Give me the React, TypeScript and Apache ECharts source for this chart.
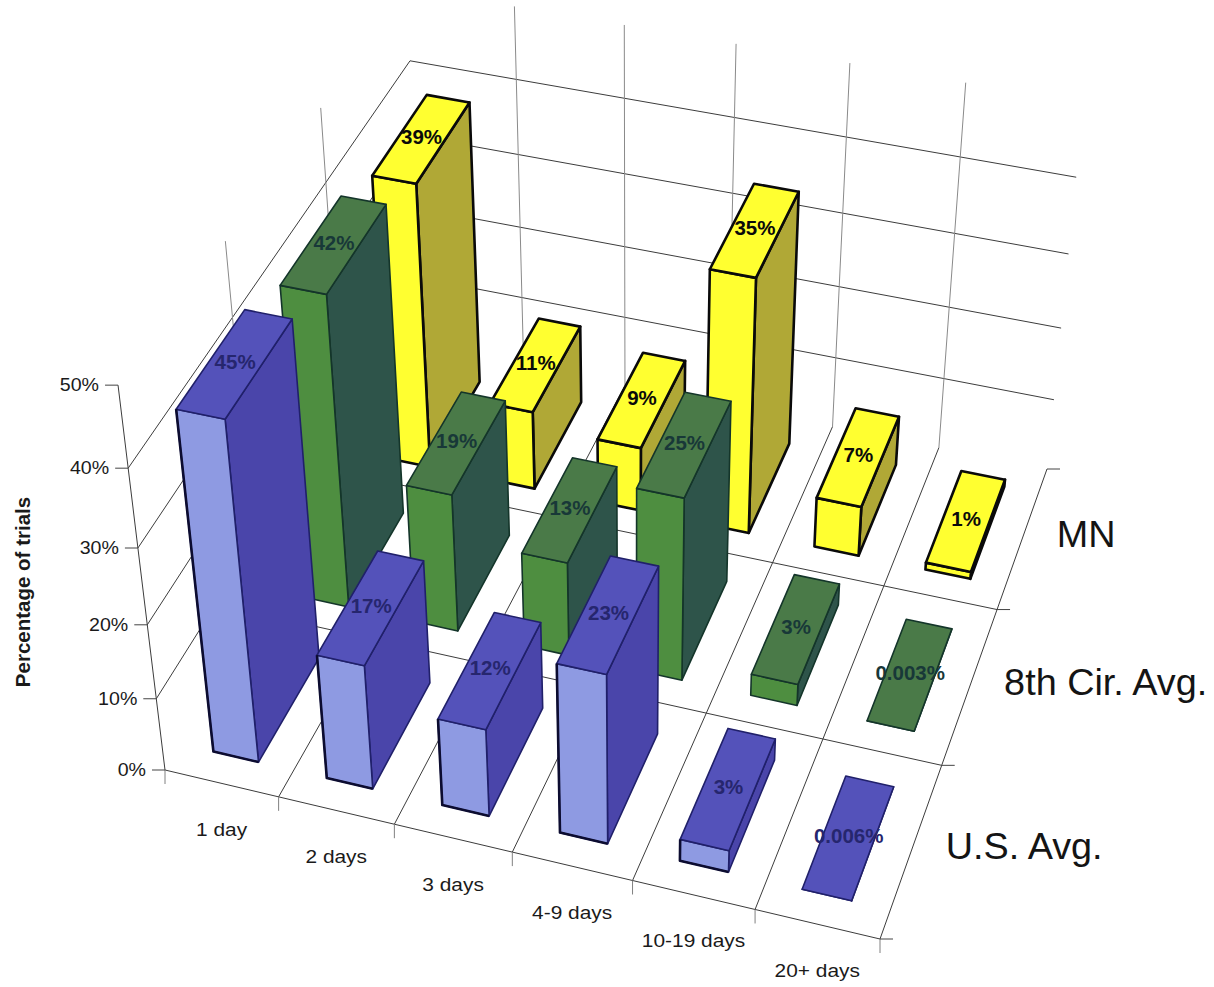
import { useEffect, useRef } from "react";
import * as echarts from "echarts";

// Chart content
const categories = ["1 day", "2 days", "3 days", "4-9 days", "10-19 days", "20+ days"];
const rowNames = ["U.S. Avg.", "8th Cir. Avg.", "MN"];
const usAvg = [45, 17, 12, 23, 3, 0.006];
const circuitAvg = [42, 19, 13, 25, 3, 0.003];
const mnValues = [39, 11, 9, 35, 7, 1];
const percentTicks = [0, 10, 20, 30, 40, 50];
const axisTitle = "Percentage of trials";
const wallTop = 50;
const uprightTop = 49.4;

type Pt = [number, number];

// Camera: where the floor's corners land on the page, and the vanishing point of the uprights.
const floorFrontLeft: Pt = [165, 770];
const floorFrontRight: Pt = [880, 939];
const floorBackRight: Pt = [1047, 469];
const floorBackLeft: Pt = [424, 346];
const verticalVanish: Pt = [633, 4605];
const perspectiveZ = -0.0912;

function buildCamera() {
  const [x0, y0] = floorFrontLeft;
  const [x1, y1] = floorFrontRight;
  const [x2, y2] = floorBackRight;
  const [x3, y3] = floorBackLeft;
  const dx1 = x1 - x2, dx2 = x3 - x2, sx = x0 - x1 + x2 - x3;
  const dy1 = y1 - y2, dy2 = y3 - y2, sy = y0 - y1 + y2 - y3;
  const det = dx1 * dy2 - dx2 * dy1;
  const g = (sx * dy2 - dx2 * sy) / det;
  const h = (dx1 * sy - sx * dy1) / det;
  return {
    a: x1 - x0 + g * x1, b: x3 - x0 + h * x3, c: x0,
    d: y1 - y0 + g * y1, e: y3 - y0 + h * y3, f: y0,
    g, h,
  };
}
const cam = buildCamera();

// u: along the days axis, v: front to back, pct: height in percent.
function project(u: number, v: number, pct: number): Pt {
  const z = pct / wallTop;
  const w = cam.g * u + cam.h * v + 1 + perspectiveZ * z;
  const X = cam.a * u + cam.b * v + cam.c + verticalVanish[0] * perspectiveZ * z;
  const Y = cam.d * u + cam.e * v + cam.f + verticalVanish[1] * perspectiveZ * z;
  return [X / w, Y / w];
}

const nCols = categories.length;
const nRows = rowNames.length;
// Footprint of a bar inside its floor cell, as fractions of the cell
const barStartU = 0.29;
const barEndU = 0.69;
const barStartV = 0.16;
const barEndV = 0.82;

// Each segment: u0, v0, pct0, u1, v1, pct1, shade (0 = dark, 1 = grey)
function gridSegments(): number[][] {
  const segs: number[][] = [];
  for (const t of percentTicks) {
    if (t > 0 && t < wallTop) {
      segs.push([0, 0, t, 0, 1, t, 0]);
      segs.push([0, 1, t, 1, 1, t, 0]);
    }
  }
  for (let c = 1; c < nCols; c++) {
    segs.push([c / nCols, 1, 0, c / nCols, 1, uprightTop, 1]);
    segs.push([c / nCols, 0, 0, c / nCols, 1, 0, 0]);
  }
  for (let r = 1; r < nRows; r++) {
    segs.push([0, r / nRows, 0, 0, r / nRows, uprightTop, 1]);
    segs.push([0, r / nRows, 0, 1, r / nRows, 0, 0]);
  }
  segs.push([0, 0, 0, 1, 0, 0, 0]);
  segs.push([1, 0, 0, 1, 1, 0, 0]);
  segs.push([0, 0, 0, 0, 0, wallTop, 0]);
  return segs;
}

function renderGridLine(_p: any, api: any) {
  const a = project(api.value(0), api.value(1), api.value(2));
  const b = project(api.value(3), api.value(4), api.value(5));
  return {
    type: "line",
    shape: { x1: a[0], y1: a[1], x2: b[0], y2: b[1] },
    style: { stroke: api.value(6) ? "#8a8a8a" : "#3c3c3c", lineWidth: 1 },
  };
}

// Short tick marks hanging off the axes: x1, y1, x2, y2, shade
function tickSegments(): number[][] {
  const out: number[][] = [];
  for (let c = 0; c <= nCols; c++) {
    const p = project(c / nCols, 0, 0);
    out.push([p[0], p[1], p[0], p[1] + 14, 1]);
  }
  for (let r = 0; r <= nRows; r++) {
    const p = project(1, r / nRows, 0);
    out.push([p[0], p[1], p[0] + 13, p[1], 0]);
  }
  for (const t of percentTicks) {
    const p = project(0, 0, t);
    out.push([p[0], p[1], p[0] - 13, p[1], 0]);
  }
  return out;
}

function renderTick(_p: any, api: any) {
  return {
    type: "line",
    shape: { x1: api.value(0), y1: api.value(1), x2: api.value(2), y2: api.value(3) },
    style: { stroke: api.value(4) ? "#808080" : "#444444", lineWidth: 1 },
  };
}

type BarStyle = {
  front: string; top: string; side: string; edge: string; edgeWidth: number; label: string; heavyEdge?: string;
};

const usStyle: BarStyle = { front: "#8e9ae2", top: "#5452ba", side: "#4a45aa", edge: "#20206a", edgeWidth: 1.6, label: "#26266e", heavyEdge: "#0c0c30" };
const circuitStyle: BarStyle = { front: "#4e8e40", top: "#4a7a48", side: "#2e544a", edge: "#14352a", edgeWidth: 1.6, label: "#183838" };
const mnStyle: BarStyle = { front: "#ffff30", top: "#ffff30", side: "#b0a836", edge: "#0a0a0a", edgeWidth: 2.6, label: "#0a0a0a" };

function makeBarRenderer(row: number, look: BarStyle) {
  return (_p: any, api: any) => {
    const col = api.value(0);
    const pct = api.value(1);
    const u0 = (col + barStartU) / nCols;
    const u1 = (col + barEndU) / nCols;
    const v0 = (row + barStartV) / nRows;
    const v1 = (row + barEndV) / nRows;
    const fl0 = project(u0, v0, 0), fr0 = project(u1, v0, 0), br0 = project(u1, v1, 0);
    const fl = project(u0, v0, pct), fr = project(u1, v0, pct), br = project(u1, v1, pct), bl = project(u0, v1, pct);
    const face = (points: Pt[], fill: string) => ({
      type: "polygon",
      shape: { points },
      style: { fill, stroke: look.edge, lineWidth: look.edgeWidth, lineJoin: "round" },
    });
    const centre = project((u0 + u1) / 2, (v0 + v1) / 2, pct);
    const children: any[] = [
      face([fr0, br0, br, fr], look.side),
      face([fl0, fr0, fr, fl], look.front),
      face([fl, fr, br, bl], look.top),
    ];
    // Heavier ink down the left and along the foot of the front face
    if (look.heavyEdge && pct >= 1) {
      children.push({
        type: "polyline",
        shape: { points: [fl, fl0, fr0] },
        style: { fill: "none", stroke: look.heavyEdge, lineWidth: 2.6, lineJoin: "round" },
      });
    }
    children.push({
      type: "text",
      x: centre[0],
      y: centre[1] - 2,
      style: {
        text: `${pct}%`,
        font: "bold 20.5px 'Liberation Sans', Arial, sans-serif",
        fill: look.label,
        align: "center",
        verticalAlign: "middle",
      },
    });
    return { type: "group", children };
  };
}

const barRows: { values: number[]; row: number; look: BarStyle }[] = [
  { values: mnValues, row: 2, look: mnStyle },
  { values: circuitAvg, row: 1, look: circuitStyle },
  { values: usAvg, row: 0, look: usStyle },
];

const sansFont = "'Liberation Sans', Arial, sans-serif";

function axisTexts() {
  const items: any[] = [];
  percentTicks.forEach((t) => {
    const p = project(0, 0, t);
    items.push({
      type: "text", x: p[0] - 19, y: p[1], scaleX: 1.06,
      style: { text: `${t}%`, font: `18.5px ${sansFont}`, fill: "#1a1a1a", align: "right", verticalAlign: "middle" },
    });
  });
  categories.forEach((name, i) => {
    const p = project((i + 0.5) / nCols, 0, 0);
    items.push({
      type: "text", x: p[0], y: p[1] + 46, scaleX: 1.13,
      style: { text: name, font: `18.5px ${sansFont}`, fill: "#1a1a1a", align: "center", verticalAlign: "middle" },
    });
  });
  rowNames.forEach((name, r) => {
    const p = project(1, (r + 0.5) / nRows, 0);
    items.push({
      type: "text", x: p[0] + 34, y: p[1] - 3, scaleX: 1.05,
      style: { text: name, font: `36px ${sansFont}`, fill: "#141414", align: "left", verticalAlign: "middle" },
    });
  });
  items.push({
    type: "text", x: 22, y: 592, rotation: Math.PI / 2,
    style: { text: axisTitle, font: `bold 20.5px ${sansFont}`, fill: "#1a1a1a", align: "center", verticalAlign: "middle" },
  });
  return items;
}

export default function App() {
  const ref = useRef<HTMLDivElement>(null);
  useEffect(() => {
    const chart = echarts.init(ref.current!, undefined, { renderer: "svg" });
    chart.setOption({
      animation: false,
      backgroundColor: "#ffffff",
      graphic: axisTexts(),
      series: [
        { type: "custom", coordinateSystem: "none", data: gridSegments(), renderItem: renderGridLine, silent: true },
        { type: "custom", coordinateSystem: "none", data: tickSegments(), renderItem: renderTick, silent: true },
        ...barRows.map((b) => ({
          type: "custom",
          coordinateSystem: "none",
          name: rowNames[b.row],
          data: b.values.map((v, i) => [i, v]),
          renderItem: makeBarRenderer(b.row, b.look),
        })),
      ],
    });
    return () => chart.dispose();
  }, []);
  return <div ref={ref} style={{ position: "fixed", left: 0, top: 0, width: 1214, height: 987 }} />;
}
